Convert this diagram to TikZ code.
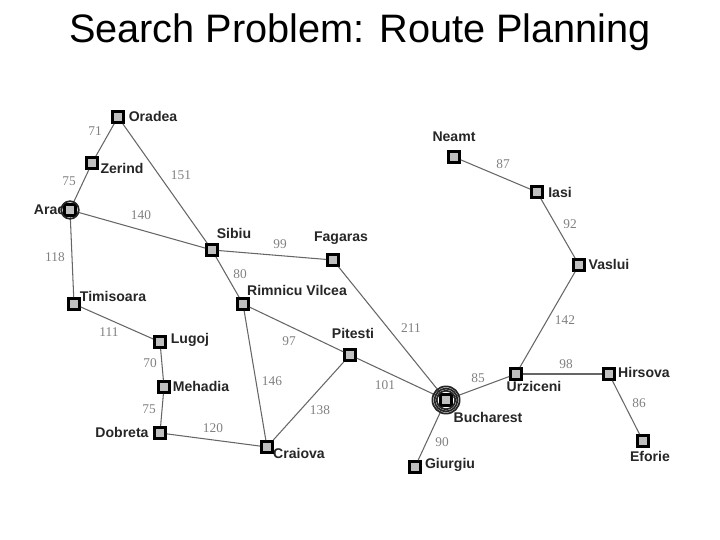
\documentclass[tikz,border=0pt]{standalone}
\usepackage{fontspec}
\setmainfont{Liberation Sans}
\newfontfamily\distfont{Liberation Serif}
\usepackage{tikz}
\tikzset{
  city/.style={draw=black,fill=black!25,line width=1.4pt,minimum size=6.4pt,inner sep=0pt},
  cityname/.style={inner sep=0pt,text=black!85,font=\bfseries\fontsize{8}{9}\selectfont},
  road/.style={draw=black!60,line width=0.6pt},
  dist/.style={inner sep=0pt,text=black!50,font=\distfont\fontsize{7.6}{9}\selectfont},
  ring/.style={circle,draw=black!85,line width=1pt,inner sep=0pt}
}
\begin{document}
\begin{tikzpicture}[x=0.02cm,y=-0.02cm]
\useasboundingbox (0,0) rectangle (720,540);
\node[inner sep=0pt,font=\fontsize{22.6}{26}\selectfont] (title) at (360,32) {Search Problem: Route Planning};
% labels
\foreach \n/\x/\y/\lab in {oradea/153/116/Oradea,zerind/122/168/Zerind,arad/50/209/Arad,timisoara/113/296/Timisoara,lugoj/190/340/Lugoj,mehadia/201/386/Mehadia,dobreta/122/432/Dobreta,craiova/299/453/Craiova,rimnicu/297/290/Rimnicu Vilcea,sibiu/234/233/Sibiu,fagaras/341/238/Fagaras,pitesti/353/333/Pitesti,bucharest/488/417/Bucharest,giurgiu/450/465/Giurgiu,urziceni/534/386/Urziceni,hirsova/644/372/Hirsova,eforie/650/456/Eforie,vaslui/609/264/Vaslui,iasi/560/192/Iasi,neamt/454/137/Neamt} {
  \node[cityname] (l\n) at (\x,\y) {\lab};
}
\foreach \n/\x/\y in {oradea/118/117,zerind/92/163,arad/70/210,timisoara/74/304,lugoj/160/342,mehadia/164/387,dobreta/160/433,craiova/267/447,rimnicu/243/304,sibiu/212/250,fagaras/333/260,pitesti/350/355,bucharest/446/400,giurgiu/415/467,urziceni/516/374,hirsova/609/374,eforie/643/441,vaslui/579/265,iasi/537/192,neamt/454/157} {
  \node[city] (\n) at (\x,\y) {};
}
\foreach \a/\b/\d/\x/\y in {oradea/zerind/71/95/131,zerind/arad/75/69/181,oradea/sibiu/151/181/175,arad/sibiu/140/141/215,arad/timisoara/118/55/257,sibiu/fagaras/99/280/244,sibiu/rimnicu/80/240/274,timisoara/lugoj/111/109/332,rimnicu/pitesti/97/289/341,rimnicu/craiova/146/272/381,pitesti/craiova/138/320/410,lugoj/mehadia/70/150/363,mehadia/dobreta/75/149/409,dobreta/craiova/120/213/428,pitesti/bucharest/101/385/385,fagaras/bucharest/211/411/328,bucharest/urziceni/85/478/378,urziceni/hirsova/98/566/364,urziceni/vaslui/142/565/320,vaslui/iasi/92/570/224,iasi/neamt/87/503/164,hirsova/eforie/86/639/403,bucharest/giurgiu/90/442/442} {
  \draw[road] (\a) -- (\b);
  \node[dist] (d\a\b) at (\x,\y) {\d};
}
\node[ring,minimum size=10pt] (startring) at (arad) {};
\node[ring,minimum size=10.5pt] (goalringa) at (bucharest) {};
\node[ring,minimum size=13pt] (goalringb) at (bucharest) {};
\node[ring,minimum size=15.5pt] (goalringc) at (bucharest) {};
\end{tikzpicture}
\end{document}
